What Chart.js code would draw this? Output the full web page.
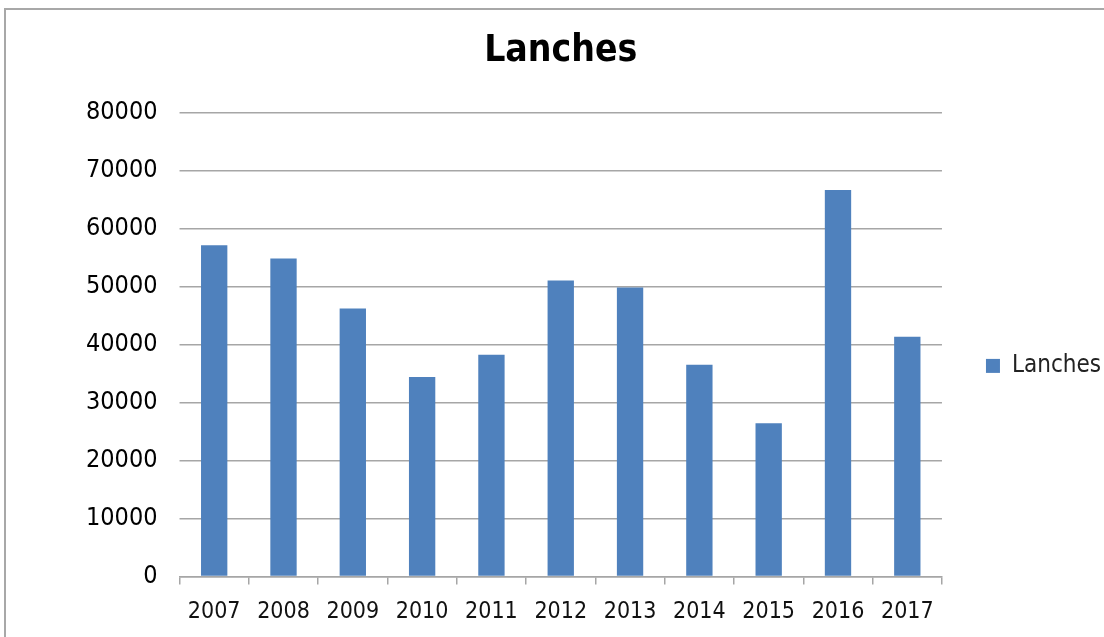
<!DOCTYPE html>
<html>
<head>
<meta charset="utf-8">
<script src="https://cdn.jsdelivr.net/npm/chart.js@4"></script>
<style>
  html, body { margin: 0; padding: 0; background: #fff; overflow: hidden; }
  #frame { position: absolute; left: 4px; top: 8px; width: 1200px; height: 700px; border: 2px solid #a8a8a8; }
  #wrap { position: absolute; left: 0; top: 0; width: 1104px; height: 637px; }
</style>
</head>
<body>
<div id="frame"></div>
<div id="wrap"><canvas id="lanchesChart" width="1104" height="637"></canvas></div>
<script>
// dados do grafico
const anos = ['2007', '2008', '2009', '2010', '2011', '2012', '2013', '2014', '2015', '2016', '2017'];
const lanches = [57100, 54800, 46200, 34400, 38200, 51000, 49800, 36500, 26400, 66600, 41300];
const yTicks = [0, 10000, 20000, 30000, 40000, 50000, 60000, 70000, 80000];

const fonte = "'DejaVu Sans Condensed', 'DejaVu Sans', sans-serif";
const azul = 'rgb(79, 129, 189)';
const cinza = '#a6a6a6';

const ctx = document.getElementById('lanchesChart').getContext('2d');
new Chart(ctx, {
    type: 'bar',
    data: {
        labels: anos,
        datasets: [{
            label: 'Lanches',
            data: lanches,
            backgroundColor: azul,
            borderWidth: 0,
            categoryPercentage: 1,
            barPercentage: 0.38
        }]
    },
    options: {
        responsive: false,
        animation: false,
        layout: {
            padding: { top: 29, right: -7, bottom: -3, left: 64 }
        },
        plugins: {
            title: {
                display: true,
                fullSize: false,
                text: 'Lanches',
                color: '#000',
                font: { family: fonte, size: 37, weight: 'bold', lineHeight: 1.2 },
                padding: { top: 0, bottom: 39 }
            },
            legend: {
                position: 'right',
                // titulo vazio so para empurrar a legenda para baixo
                title: {
                    display: true,
                    text: ' ',
                    font: { size: 4 },
                    padding: { top: 0, bottom: 58 }
                },
                labels: {
                    color: '#222',
                    font: { family: fonte, size: 24 },
                    boxWidth: 14,
                    boxHeight: 14,
                    padding: 44
                }
            },
            tooltip: { enabled: false }
        },
        scales: {
            x: {
                grid: {
                    offset: true,
                    drawOnChartArea: false,
                    color: cinza,
                    lineWidth: 1.5,
                    tickLength: 8
                },
                border: { display: true, color: cinza, width: 1.5 },
                ticks: {
                    color: '#111',
                    font: { family: fonte, size: 23 },
                    padding: 14,
                    maxRotation: 0
                }
            },
            y: {
                min: 0,
                max: 80000,
                afterBuildTicks: function(scale) {
                    scale.ticks = yTicks.map(v => ({ value: v }));
                },
                grid: {
                    color: cinza,
                    lineWidth: 1.5,
                    tickLength: 0
                },
                border: { display: false },
                ticks: {
                    color: '#000',
                    font: { family: fonte, size: 25 },
                    padding: 22,
                    callback: function(value) {
                        return String(value);
                    }
                }
            }
        }
    }
});
</script>
</body>
</html>
